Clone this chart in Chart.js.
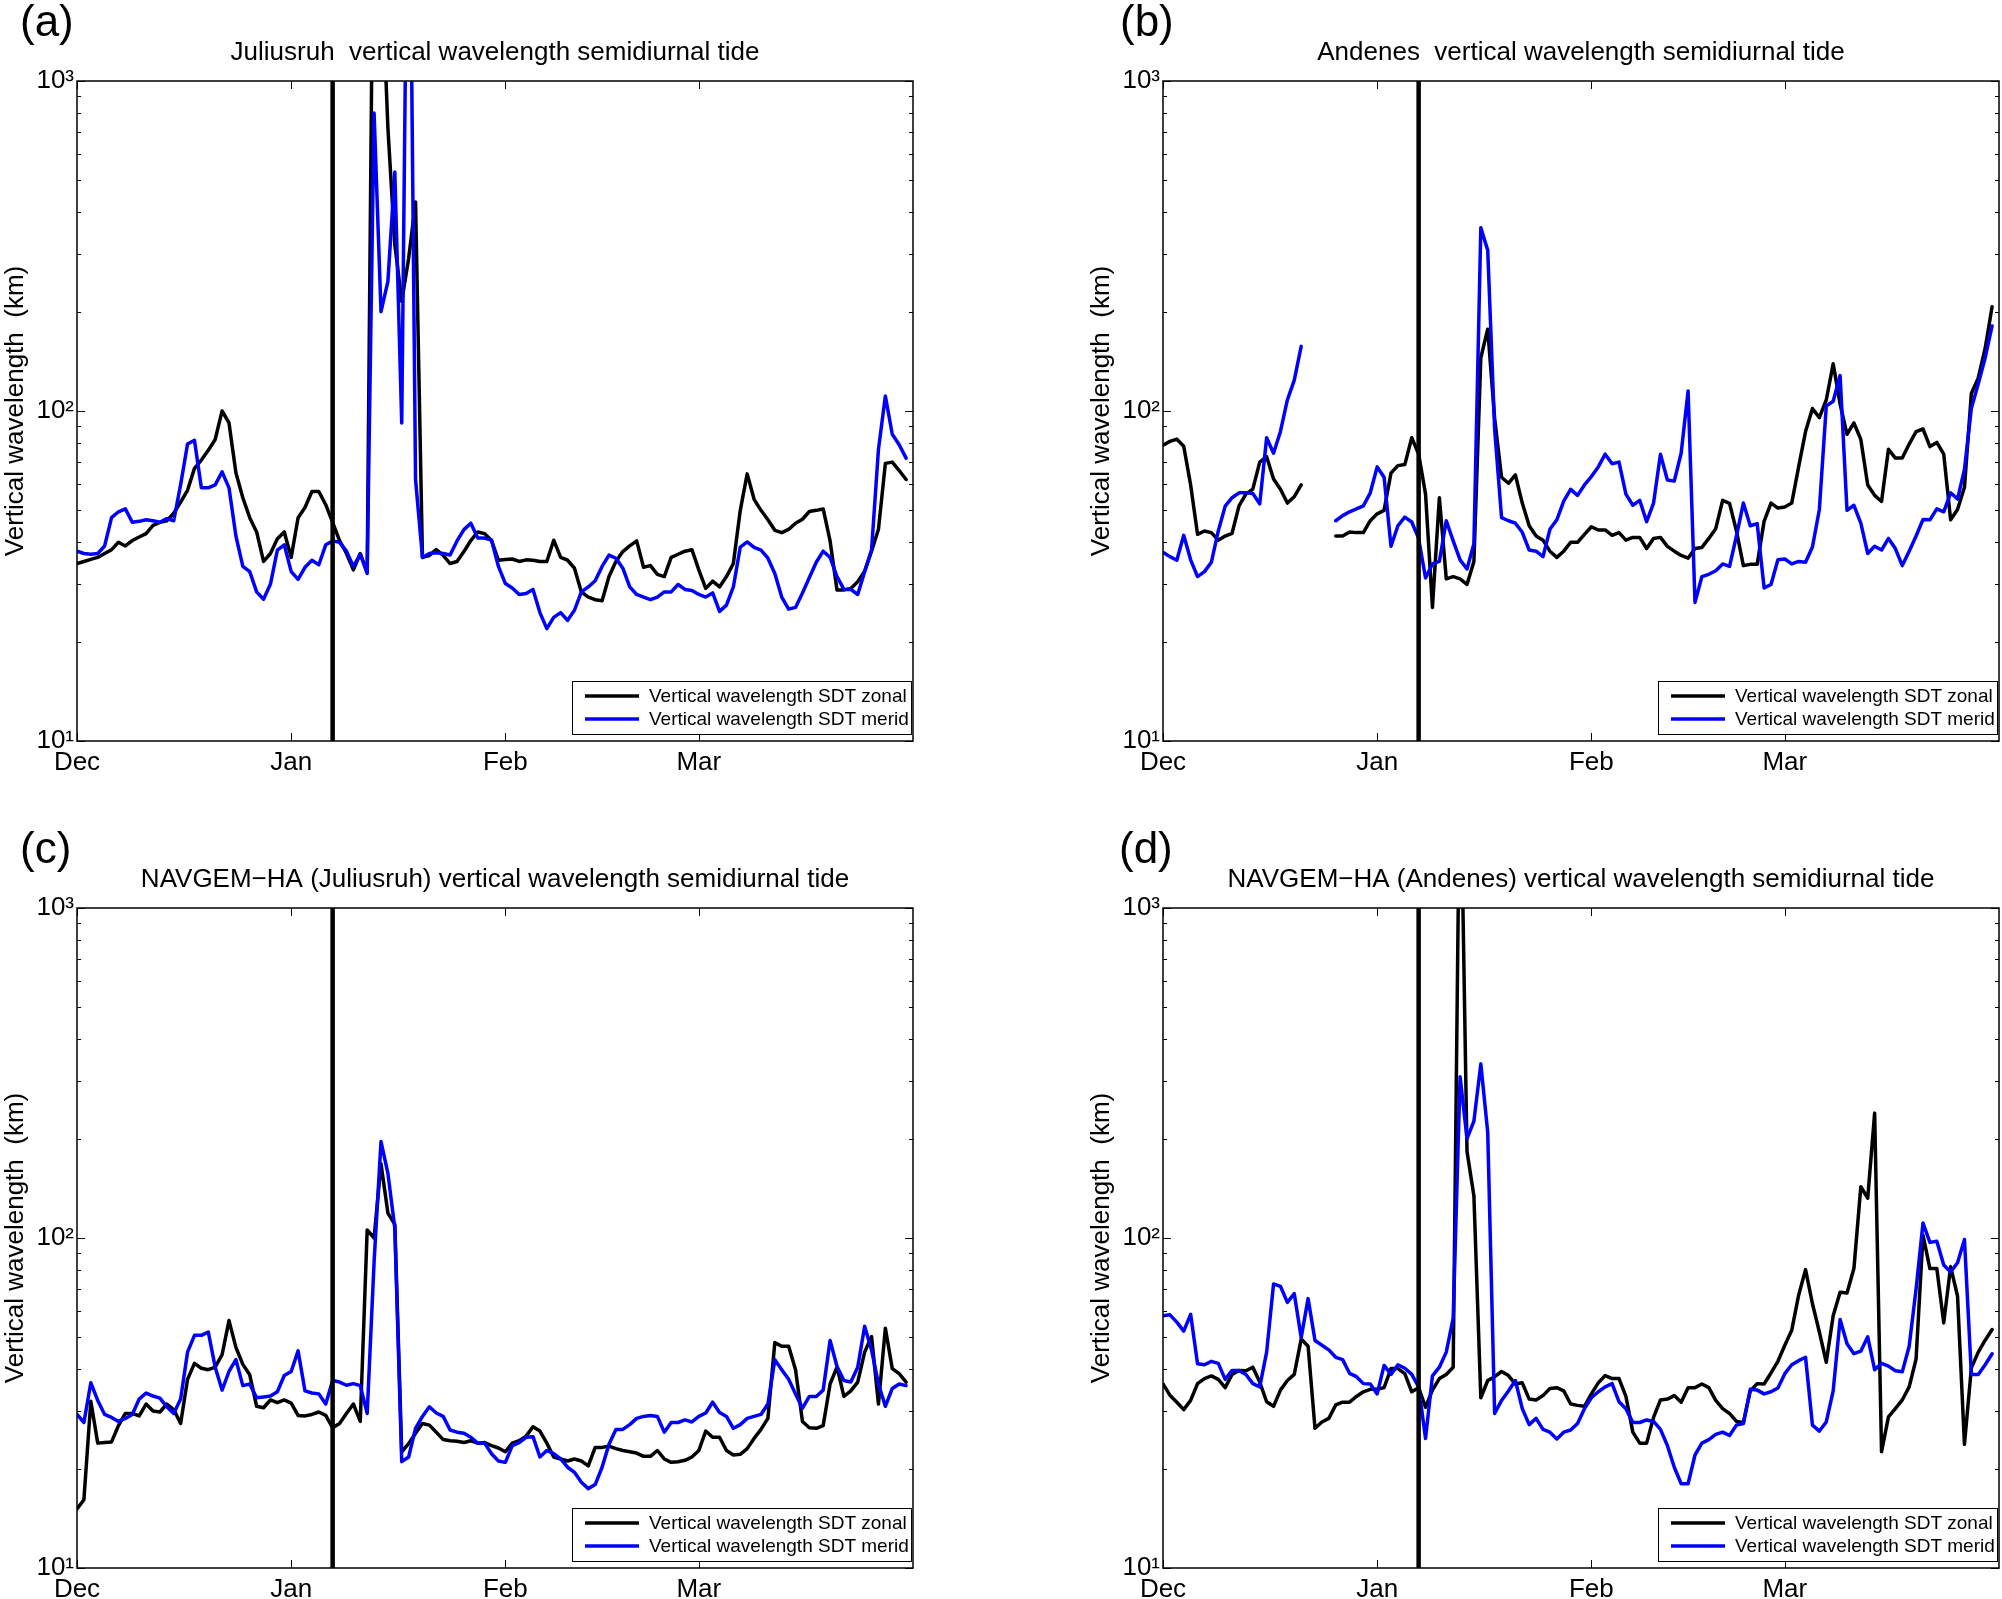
<!DOCTYPE html>
<html>
<head>
<meta charset="utf-8">
<title>Vertical wavelength semidiurnal tide</title>
<script src="https://cdn.jsdelivr.net/npm/chart.js@4.4.1/dist/chart.umd.min.js"></script>
<style>
  html, body { margin: 0; padding: 0; background: #fff; }
  body { width: 2002px; height: 1599px; position: relative; overflow: hidden; }
  canvas { position: absolute; }
</style>
</head>
<body>
<canvas id="panel-a" width="916" height="772" style="left:0px;top:0px"></canvas>
<canvas id="panel-b" width="916" height="772" style="left:1086px;top:0px"></canvas>
<canvas id="panel-c" width="916" height="772" style="left:0px;top:827px"></canvas>
<canvas id="panel-d" width="916" height="772" style="left:1086px;top:827px"></canvas>
<script>
// setup variables
const firstDay = 0; // 1 Dec
const lastDay = 121;
const eventDay = 37; // vertical marker
const monthTicks = [0, 31, 62, 90];
const monthLabels = ["Dec", "Jan", "Feb", "Mar"];
const yTicks = [10, 20, 30, 40, 50, 60, 70, 80, 90, 100, 200, 300, 400, 500, 600, 700, 800, 900, 1000];
const powerLabels = { 10: "10\u00b9", 100: "10\u00b2", 1000: "10\u00b3" };
const zonalLabel = "Vertical wavelength SDT zonal";
const meridLabel = "Vertical wavelength SDT merid";
const yTitle = "Vertical wavelength  (km)";

// (a) Juliusruh, daily values from 1 Dec
const zonalA = [
  34.5, 35, 35.5, 36, 37, 38, 40, 39, 40.5, 41.5,
  42.5, 45, 46, 46.5, 49, 53, 57.5, 67, 71, 76,
  82, 100, 92, 65, 54.6, 47.5, 43, 35, 37, 41,
  43, 36, 47.5, 51, 57, 57, 52, 46, 40.5, 37,
  33, 37, 32.5, 7000, 2400, 720, 320, 215, 290, 430,
  36, 36.5, 38, 36.5, 34.5, 35, 37.5, 40.5, 43, 42.5,
  40.5, 35.3, 35.5, 35.6, 35, 35.4, 35.3, 35, 35, 40.6,
  36, 35.3, 33.4, 28.3, 27.3, 26.8, 26.6, 31.5, 35, 37.5,
  39, 40.4, 33.6, 34, 32, 31.5, 36, 36.8, 37.6, 38,
  33, 29, 30.5, 29.3, 31.5, 34.5, 50, 64.5, 54, 50,
  46.8, 43.5, 42.8, 43.8, 45.7, 47, 49.6, 50, 50.5, 40.4,
  28.7, 28.7, 29, 30.4, 32.7, 37.6, 43.8, 69.4, 70, 66,
  62,
];
const meridA = [
  37.6, 37, 36.8, 37, 39, 47.5, 49.5, 50.5, 46, 46.3,
  46.8, 46.5, 46, 47.2, 46.5, 59.8, 79.4, 81.5, 58.5, 58.5,
  59.7, 65.4, 58.5, 41.8, 33.8, 32.6, 28.3, 26.9, 29.9, 37.9,
  39.3, 32.6, 30.9, 33.6, 35.3, 34.2, 39.3, 40.4, 40, 37.6,
  33.8, 36.8, 32.2, 800, 200, 247, 530, 92, 10000, 62,
  36, 37, 37.2, 37, 36.6, 40.4, 43.7, 45.7, 41.2, 41.2,
  40.6, 33.8, 30, 29.1, 27.8, 28, 28.8, 24.5, 21.9, 23.7,
  24.5, 23.2, 24.9, 28.3, 29.3, 30.6, 33.8, 36.6, 35.8, 33.4,
  29.3, 27.8, 27.3, 26.8, 27.3, 28.3, 28.3, 29.8, 28.8, 28.6,
  27.8, 27.3, 28.1, 24.7, 25.8, 29.3, 38.7, 40.1, 38.6, 37.9,
  35.8, 32.2, 27.3, 25.1, 25.4, 28.1, 31.3, 34.8, 37.6, 36,
  31.5, 28.8, 28.8, 27.8, 32.6, 37.9, 76.5, 111, 85, 79,
  72,
];

// (b) Andenes, gap 22-25 Dec
const zonalB = [
  78.8, 80.9, 82.2, 78.2, 59.7, 42.3, 43.3, 42.8, 40.6, 41.8,
  42.6, 51.6, 56, 58, 70, 72.7, 62.2, 57.9, 52.6, 55,
  59.7, null, null, null, null, 41.8, 41.8, 43, 42.8, 42.8,
  46.5, 48.8, 50, 64.9, 68.3, 68.8, 83, 74, 56, 25.4,
  54.6, 31, 31.5, 31, 29.8, 35, 145, 177, 95, 63,
  60.4, 64, 52.6, 44.9, 41.8, 40.6, 37.6, 36, 37.6, 40,
  40, 42.3, 44.6, 43.6, 43.6, 42, 42.8, 40.6, 41.4, 41.4,
  38.3, 41.1, 41.4, 38.9, 37.6, 36.5, 35.8, 38.3, 38.6, 41.1,
  44, 53.6, 52.5, 43.3, 34, 34.3, 34.3, 46.3, 52.6, 50.8,
  51.2, 52.6, 67.7, 86.6, 101.8, 95.5, 108, 139, 105, 85,
  92, 82, 59.7, 55.5, 53.2, 76.6, 72, 72, 79.4, 86.6,
  88.2, 78, 80.3, 74, 46.8, 50.3, 58.7, 113, 126, 155,
  207,
];
const meridB = [
  37.3, 36.2, 35.3, 42, 35.4, 31.5, 32.6, 34.8, 43.3, 51.5,
  54.6, 56.5, 56.5, 56.2, 52.3, 83, 74.5, 86.7, 108, 124,
  157, null, null, null, null, 46.5, 48.2, 49.5, 50.5, 51.6,
  56.5, 67.7, 63, 38.9, 44.9, 47.7, 46.1, 41.1, 31.2, 34.4,
  35, 46.5, 40.4, 35.4, 33.2, 39.6, 359, 307, 88, 47.5,
  46.5, 45.7, 42.9, 37.9, 37.6, 36.2, 43.8, 46.8, 53.3, 57.9,
  55.5, 59.7, 63.3, 67.7, 74, 69.2, 70, 56, 51.8, 53.6,
  46.2, 52.6, 74, 61.8, 61.3, 74.6, 115, 26.3, 31.5, 32,
  32.8, 34.4, 33.8, 41.8, 52.6, 44.9, 45.6, 29.1, 29.8, 35.4,
  35.6, 34.4, 35, 34.8, 38.7, 50.3, 103.6, 107, 128, 50,
  51.8, 45.7, 37, 38.9, 37.9, 41.1, 38.3, 34, 37.6, 41.8,
  46.9, 46.8, 50.5, 49.5, 56.5, 54.1, 66.5, 102, 121, 145,
  181,
];

// (c) NAVGEM-HA at Juliusruh
const zonalC = [
  15.1, 16.1, 32, 23.9, 24, 24.1, 27, 29.4, 29.4, 28.9,
  31.4, 29.9, 29.7, 31.4, 30.2, 27.4, 37.3, 41.7, 40.3, 39.9,
  40.6, 44.3, 56.2, 46.6, 41.4, 38.5, 30.9, 30.6, 32.3, 31.7,
  32.3, 31.6, 29, 28.9, 29.2, 29.7, 29, 26.6, 27.4, 29.4,
  31.4, 27.8, 105.8, 100, 168, 119, 110, 22.5, 23.8, 25.6,
  27.4, 27.1, 25.8, 24.5, 24.3, 24.2, 24, 24.3, 23.9, 24,
  23.5, 23.1, 22.5, 23.9, 24.3, 25.1, 26.8, 26, 23.9, 21.7,
  21.4, 21.1, 21.4, 21.1, 20.4, 23.2, 23.2, 23.4, 23, 22.7,
  22.5, 22.3, 21.8, 21.8, 22.7, 21.4, 20.9, 21, 21.2, 21.7,
  22.7, 26, 24.9, 24.9, 22.7, 22, 22.1, 23, 24.7, 26.3,
  28.4, 48.2, 47, 47, 39.9, 27.8, 26.6, 26.5, 27, 36.1,
  40.6, 33.1, 34.4, 36.6, 45.1, 50.3, 31.4, 53.3, 40.2, 38.8,
  36.6,
];
const meridC = [
  29.2, 27.6, 36.4, 32.2, 29.2, 28.6, 27.8, 28.4, 29.2, 32.5,
  33.9, 33.2, 32.7, 30.8, 29.4, 32.5, 45.1, 50.7, 50.7, 51.9,
  40.6, 34.6, 39.4, 42.8, 35.7, 36.1, 32.8, 33, 33.2, 34.2,
  38.3, 39.4, 45.5, 34.4, 33.9, 33.7, 31.4, 37, 36.6, 35.8,
  36.2, 35.7, 29.4, 84.7, 196, 157, 107, 21, 21.7, 26.5,
  28.8, 30.8, 29.5, 28.8, 26.2, 25.8, 25.6, 24.9, 23.9, 23.9,
  22.2, 21.1, 20.9, 23.5, 24, 24.9, 25, 21.7, 22.7, 22.2,
  21.4, 20.2, 19.5, 18.2, 17.4, 17.9, 20.2, 23.7, 26.3, 26.3,
  27.2, 28.4, 28.8, 29, 28.8, 25.8, 27.6, 27.6, 28.1, 27.7,
  28.8, 29.5, 31.8, 29.6, 28.8, 26.5, 27.2, 28.4, 28.8, 29.2,
  31.4, 42.8, 39.9, 37.3, 33.7, 30.5, 33.1, 33.1, 34.6, 48.9,
  40.8, 37, 36.6, 40.6, 54, 45.8, 36.1, 30.9, 35, 36.1,
  35.7,
];

// (d) NAVGEM-HA at Andenes
const zonalD = [
  36.1, 33.4, 31.8, 30.2, 32.2, 36.2, 37.5, 38.2, 37.3, 35.2,
  38.6, 39.7, 39.6, 40.6, 36.6, 31.9, 30.9, 34.6, 37, 38.6,
  49.4, 47, 26.5, 27.7, 28.4, 31.2, 31.8, 31.8, 33.1, 34.2,
  34.8, 34.8, 35.2, 40.2, 40.2, 38.8, 34.2, 35.2, 30.7, 34.6,
  37.5, 38.6, 40.6, 3300, 183, 134, 32.8, 37, 38, 39.4,
  38.3, 36.1, 36.4, 32.5, 32.3, 33.3, 35, 35.2, 34.4, 31.4,
  31.1, 30.9, 33.7, 36.4, 38.3, 37.5, 37.5, 33.1, 25.8, 23.9,
  23.9, 28.6, 32.3, 32.5, 33.3, 31.8, 35.2, 35.2, 36.1, 35.2,
  32.2, 30.4, 29.4, 27.8, 27.6, 34.4, 36.2, 36.1, 39, 42.3,
  47.3, 52.5, 67.1, 80.2, 63.2, 51.9, 42, 58.1, 68.5, 68.1,
  80.8, 143, 132, 239, 22.5, 28.7, 30.4, 32.3, 35.4, 43,
  102, 80.8, 80.8, 55.3, 81.9, 66.6, 23.7, 40.4, 45.1, 49,
  52.8,
];
const meridD = [
  58.1, 58.5, 55.6, 52.2, 58.7, 41.6, 41.3, 42.3, 41.7, 37.3,
  39.7, 39.7, 38.6, 36.2, 35.4, 45.1, 72.6, 71.4, 63.8, 67.8,
  49.9, 65.5, 48.9, 47.3, 45.8, 43.5, 42.8, 38.9, 38, 36.2,
  36.1, 33.7, 41.1, 38.6, 41.3, 40.3, 38.6, 35.4, 24.7, 38.2,
  40.6, 45.1, 57.2, 308, 200, 226, 337, 209, 29.4, 32.2,
  34.4, 37, 30.4, 27.2, 28.4, 26.3, 25.8, 24.6, 25.8, 26.2,
  27.4, 30.4, 32.8, 34.2, 35.4, 36.2, 31.9, 30.4, 27.6, 27.6,
  28.1, 27.8, 26.3, 23.5, 20.2, 18, 18, 22, 23.9, 24.5,
  25.4, 25.8, 25.2, 27.1, 27.4, 34.8, 34.6, 33.7, 34.2, 35.1,
  38.8, 41.3, 42.5, 43.5, 27.1, 26, 27.7, 34.4, 56.6, 47.8,
  44.6, 45.4, 50.2, 39.9, 41.7, 40.9, 39.6, 39.3, 47, 70.1,
  111, 97, 97.8, 82.8, 78.9, 84.1, 99, 38.6, 38.6, 41.3,
  44.6,
];

const fontFamily = "'Liberation Sans', Arial, Helvetica, sans-serif";
Chart.defaults.font.family = fontFamily;
Chart.defaults.color = "#000";

// helper: daily values -> {x, y} points
const toPoints = (values) => values.map((v, i) => ({ x: firstDay + i, y: v }));

// draws the matlab style box, inward ticks, legend, title and panel letter
const panelDecor = {
  id: "panelDecor",
  afterDraw: (chart, args, opts) => {
    const { ctx, chartArea: area, scales } = chart;
    ctx.save();

    // axes box
    ctx.strokeStyle = "#000";
    ctx.lineWidth = 1.5;
    ctx.strokeRect(area.left, area.top, area.right - area.left, area.bottom - area.top);

    // inward tick marks on all four sides
    ctx.lineWidth = 1;
    ctx.beginPath();
    for (const t of scales.y.ticks) {
      const py = Math.round(scales.y.getPixelForValue(t.value)) + 0.5;
      const len = powerLabels[t.value] ? 8 : 4;
      ctx.moveTo(area.left, py);
      ctx.lineTo(area.left + len, py);
      ctx.moveTo(area.right, py);
      ctx.lineTo(area.right - len, py);
    }
    for (const t of scales.x.ticks) {
      const px = Math.round(scales.x.getPixelForValue(t.value)) + 0.5;
      ctx.moveTo(px, area.bottom);
      ctx.lineTo(px, area.bottom - 8);
      ctx.moveTo(px, area.top);
      ctx.lineTo(px, area.top + 8);
    }
    ctx.stroke();

    // legend box in lower right corner
    const boxW = 339;
    const boxH = 53;
    const boxX = area.right - 2 - boxW;
    const boxY = area.bottom - 7 - boxH;
    ctx.fillStyle = "#fff";
    ctx.fillRect(boxX, boxY, boxW, boxH);
    ctx.strokeStyle = "#000";
    ctx.lineWidth = 1;
    ctx.strokeRect(boxX + 0.5, boxY + 0.5, boxW, boxH);
    const entries = chart.data.datasets.filter((ds) => ds.inLegend);
    entries.sort((a, b) => a.legendRow - b.legendRow);
    ctx.font = "19px " + fontFamily;
    ctx.textAlign = "left";
    ctx.textBaseline = "middle";
    entries.forEach((ds, i) => {
      const rowY = boxY + 15 + i * 23;
      ctx.strokeStyle = ds.borderColor;
      ctx.lineWidth = 3.5;
      ctx.beginPath();
      ctx.moveTo(boxX + 13, rowY);
      ctx.lineTo(boxX + 67, rowY);
      ctx.stroke();
      ctx.fillStyle = "#000";
      ctx.fillText(ds.label, boxX + 77, rowY + 1);
    });

    // title and panel letter
    ctx.fillStyle = "#000";
    ctx.textBaseline = "alphabetic";
    ctx.textAlign = "center";
    ctx.font = "26px " + fontFamily;
    ctx.fillText(opts.title, (area.left + area.right) / 2, 60);
    ctx.textAlign = "left";
    ctx.font = "44px " + fontFamily;
    ctx.fillText(opts.tag, opts.tagX, 36);

    ctx.restore();
  },
};

const makePanel = (canvasId, zonal, merid, title, tag, tagX) => {
  const ctx = document.querySelector(canvasId).getContext("2d");
  return new Chart(ctx, {
    type: "line",
    data: {
      datasets: [
        {
          label: "event",
          data: [
            { x: eventDay, y: 10 },
            { x: eventDay, y: 1000 },
          ],
          borderColor: "#000",
          borderWidth: 4.5,
        },
        {
          label: meridLabel,
          data: toPoints(merid),
          borderColor: "#0000ff",
          borderWidth: 3.5,
          inLegend: true,
          legendRow: 1,
        },
        {
          label: zonalLabel,
          data: toPoints(zonal),
          borderColor: "#000",
          borderWidth: 3.5,
          inLegend: true,
          legendRow: 0,
        },
      ],
    },
    options: {
      responsive: false,
      animation: false,
      devicePixelRatio: 1,
      layout: { padding: { top: 81, right: 3, bottom: 0, left: 0 } },
      elements: {
        point: { radius: 0 },
        line: { tension: 0, borderJoinStyle: "round", borderCapStyle: "round" },
      },
      datasets: { line: { spanGaps: false, clip: 0 } },
      scales: {
        x: {
          type: "linear",
          min: firstDay,
          max: lastDay,
          afterBuildTicks: (scale) => {
            scale.ticks = monthTicks.map((v) => ({ value: v }));
          },
          afterFit: (scale) => {
            scale.height = 31;
          },
          grid: { display: false, drawTicks: false },
          border: { display: false },
          ticks: {
            autoSkip: false,
            maxRotation: 0,
            padding: 6,
            color: "#000",
            font: { size: 26 },
            callback: (value, index) => monthLabels[index],
          },
        },
        y: {
          type: "logarithmic",
          min: 10,
          max: 1000,
          afterBuildTicks: (scale) => {
            scale.ticks = yTicks.map((v) => ({ value: v }));
          },
          afterFit: (scale) => {
            scale.width = 77;
          },
          grid: { display: false, drawTicks: false },
          border: { display: false },
          ticks: {
            autoSkip: false,
            padding: 3,
            color: "#000",
            font: { size: 26 },
            callback: (value) => powerLabels[value] || "",
          },
          title: {
            display: true,
            text: yTitle,
            color: "#000",
            font: { size: 26 },
            padding: { top: 0, bottom: 0 },
          },
        },
      },
      plugins: {
        legend: { display: false },
        tooltip: { enabled: false },
        panelDecor: { title, tag, tagX },
      },
    },
    plugins: [panelDecor],
  });
};

makePanel("#panel-a", zonalA, meridA, "Juliusruh  vertical wavelength semidiurnal tide", "(a)", 20);
makePanel("#panel-b", zonalB, meridB, "Andenes  vertical wavelength semidiurnal tide", "(b)", 34);
makePanel("#panel-c", zonalC, meridC, "NAVGEM\u2212HA (Juliusruh) vertical wavelength semidiurnal tide", "(c)", 20);
makePanel("#panel-d", zonalD, meridD, "NAVGEM\u2212HA (Andenes) vertical wavelength semidiurnal tide", "(d)", 33);
</script>
</body>
</html>
